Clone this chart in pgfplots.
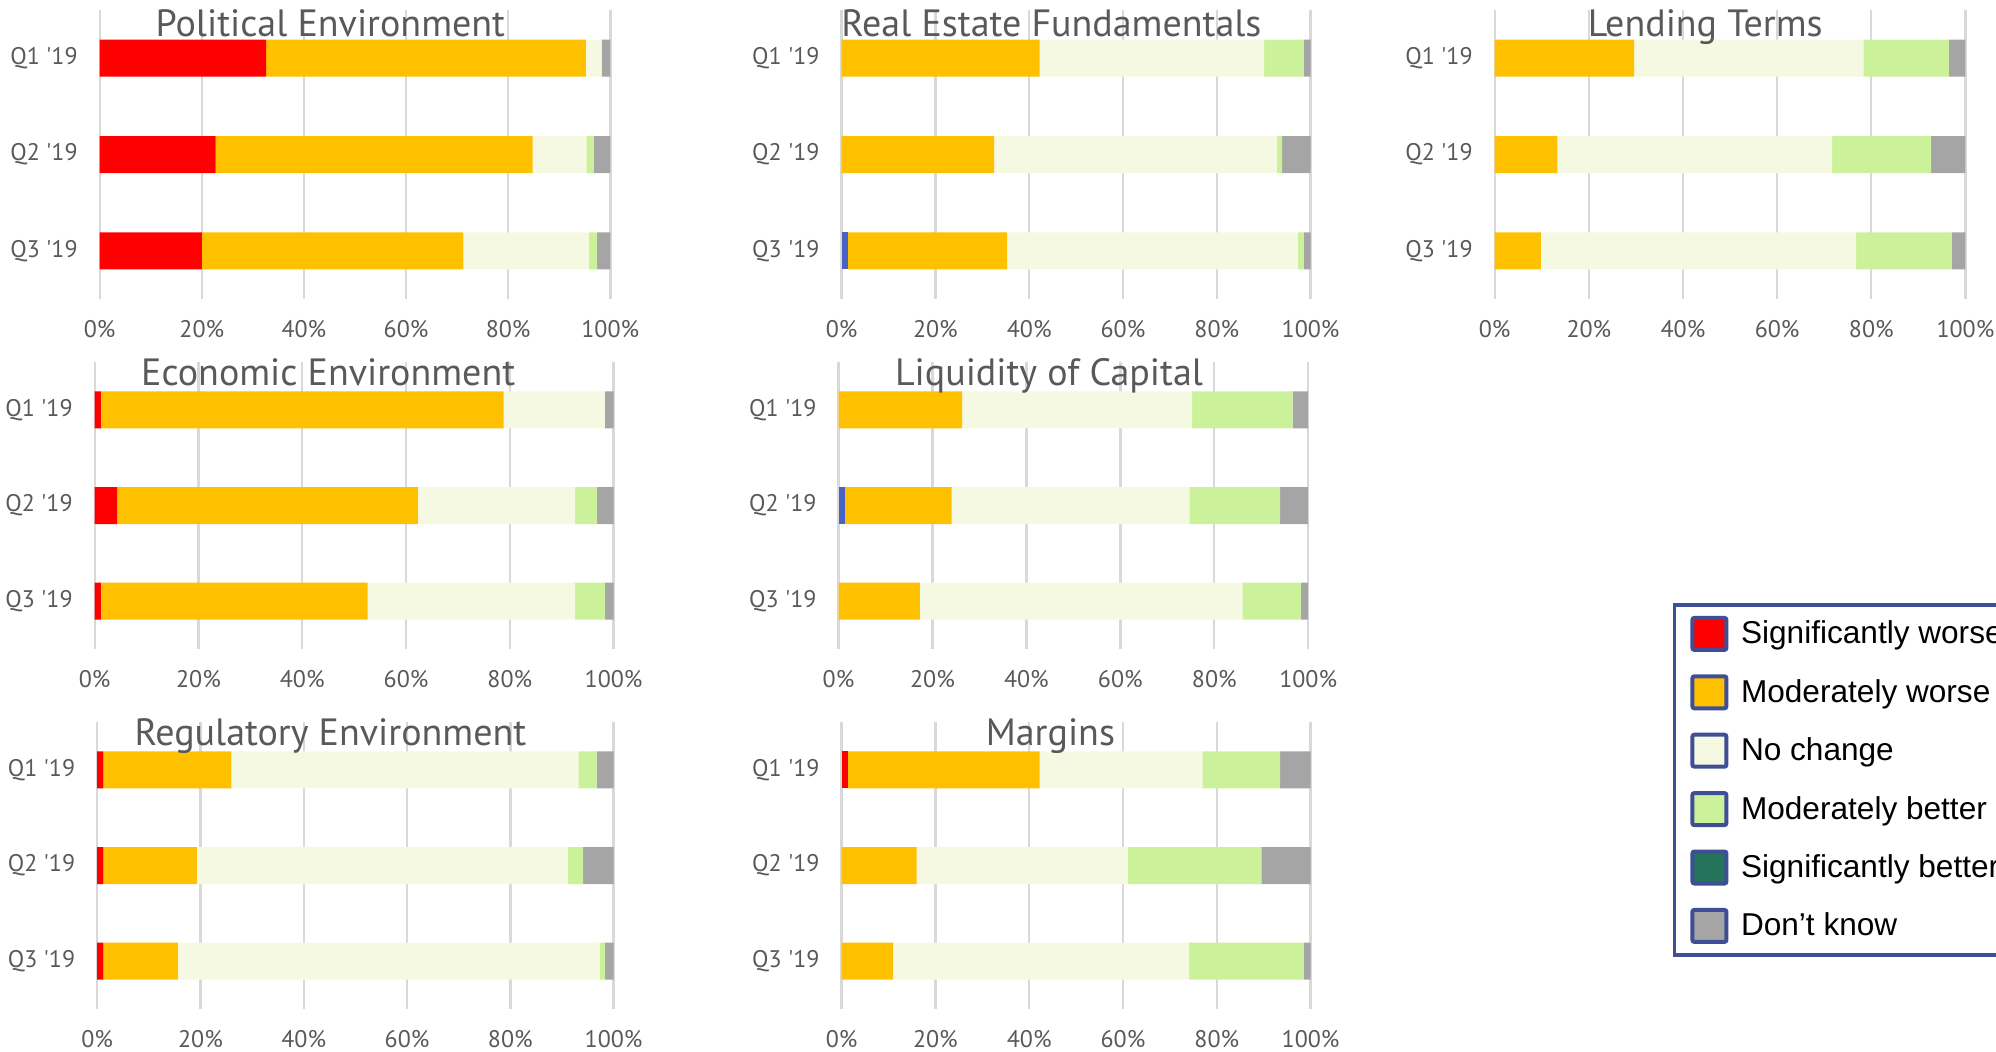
\documentclass[border=0pt]{standalone}
\usepackage{fontspec}
\setmainfont{PT Sans}
\newfontfamily\legendfont{Liberation Sans}
\usepackage{pgfplots}
\pgfplotsset{compat=1.18}
\usepackage{pgfplotstable}
\definecolor{sw}{HTML}{FF0000}
\definecolor{mw}{HTML}{FFC000}
\definecolor{nc}{HTML}{F6F9E1}
\definecolor{mb}{HTML}{CBF29B}
\definecolor{sb}{HTML}{24735A}
\definecolor{dk}{HTML}{A5A5A5}
\definecolor{bl}{HTML}{4A62C6}
\definecolor{gridgray}{HTML}{D9D9D9}
\definecolor{labelgray}{HTML}{595959}
\definecolor{legblue}{HTML}{3F4F95}

% columns: q  blue  sig.worse  mod.worse  nochange  mod.better  sig.better  dontknow
\pgfplotstableread{
q bl sw mw nc mb sb dk
0 0 32.6 62.6 3.1 0 0 1.7
1 0 22.7 62.1 10.5 1.5 0 3.2
2 0 20.0 51.2 24.6 1.6 0 2.6
}\political
\pgfplotstableread{
q bl sw mw nc mb sb dk
0 0 0 42.2 47.9 8.4 0 1.5
1 0 0 32.5 60.3 1.1 0 6.1
2 1.3 0 34.0 62.0 1.2 0 1.5
}\realestate
\pgfplotstableread{
q bl sw mw nc mb sb dk
0 0 0 29.6 48.7 18.2 0 3.5
1 0 0 13.3 58.4 21.0 0 7.3
2 0 0 9.8 67.0 20.3 0 2.9
}\lending
\pgfplotstableread{
q bl sw mw nc mb sb dk
0 0 1.2 77.6 19.5 0 0 1.7
1 0 4.3 58.0 30.3 4.2 0 3.2
2 0 1.2 51.4 40.0 5.7 0 1.7
}\economic
\pgfplotstableread{
q bl sw mw nc mb sb dk
0 0 0 26.3 49.0 21.4 0 3.3
1 1.3 0 22.8 50.6 19.3 0 6.0
2 0 0 17.3 68.7 12.5 0 1.5
}\liquidity
\pgfplotstableread{
q bl sw mw nc mb sb dk
0 0 1.2 24.8 67.2 3.5 0 3.3
1 0 1.2 18.1 71.8 3.0 0 5.9
2 0 1.2 14.4 81.7 1.0 0 1.7
}\regulatory
\pgfplotstableread{
q bl sw mw nc mb sb dk
0 0 1.3 40.9 34.7 16.6 0 6.5
1 0 0 16.0 45.0 28.5 0 10.5
2 0 0 11.0 63.1 24.4 0 1.5
}\margins

\pgfplotsset{
  panel/.style={
    xbar stacked, scale only axis, anchor=south west,
    xmin=0, xmax=100, ymin=-0.5, ymax=2.5, y dir=reverse,
    ytick={0,1,2}, yticklabels={{Q1 \textquotesingle19},{Q2 \textquotesingle19},{Q3 \textquotesingle19}},
    xtick={0,20,40,60,80,100}, xticklabels={0\%,20\%,40\%,60\%,80\%,100\%},
    xmajorgrids, major grid style={draw=gridgray, line width=1.2pt},
    axis line style={draw=none}, major tick length=0pt,
    tick label style={font=\fontsize{12}{14}\selectfont, text=labelgray},
    yticklabel style={anchor=east, xshift=-7.5pt},
    xticklabel style={anchor=north, yshift=-7pt},
    bar width=18.5pt, clip=false,
    every axis plot/.append style={draw=none},
  },
}
\tikzset{ttl/.style={font=\fontsize{19}{21}\selectfont, text=labelgray, anchor=base}}
\newcommand{\panelplots}[1]{%
  \addplot[fill=bl] table[x=bl,y=q]{#1};
  \addplot[fill=sw] table[x=sw,y=q]{#1};
  \addplot[fill=mw] table[x=mw,y=q]{#1};
  \addplot[fill=nc] table[x=nc,y=q]{#1};
  \addplot[fill=mb] table[x=mb,y=q]{#1};
  \addplot[fill=sb] table[x=sb,y=q]{#1};
  \addplot[fill=dk] table[x=dk,y=q]{#1};
}

\begin{document}
\begin{tikzpicture}
\path[use as bounding box] (0,0) rectangle (998pt,525.5pt);
\clip (0,0) rectangle (998pt,525.5pt);

% Row 1
\begin{axis}[panel, at={(49.85pt,376pt)}, width=255.3pt, height=144.5pt]
\panelplots{\political}
\end{axis}
\begin{axis}[panel, at={(420.8pt,376pt)}, width=234.5pt, height=144.5pt]
\panelplots{\realestate}
\end{axis}
\begin{axis}[panel, at={(747.35pt,376pt)}, width=235.35pt, height=144.5pt]
\panelplots{\lending}
\end{axis}
% Row 2
\begin{axis}[panel, at={(47.35pt,201pt)}, width=259.45pt, height=143.5pt]
\panelplots{\economic}
\end{axis}
\begin{axis}[panel, at={(419.25pt,201pt)}, width=234.85pt, height=143.5pt]
\panelplots{\liquidity}
\end{axis}
% Row 3
\begin{axis}[panel, at={(48.6pt,21pt)}, width=258.2pt, height=143.5pt]
\panelplots{\regulatory}
\end{axis}
\begin{axis}[panel, at={(420.8pt,21pt)}, width=234.5pt, height=143.5pt]
\panelplots{\margins}
\end{axis}

% Titles
\node[ttl] at (165.2pt,507.2pt) {Political Environment};
\node[ttl] at (525.7pt,507.2pt) {Real Estate Fundamentals};
\node[ttl] at (852.6pt,507.2pt) {Lending Terms};
\node[ttl] at (164.1pt,332.5pt) {Economic Environment};
\node[ttl] at (524.5pt,332.5pt) {Liquidity of Capital};
\node[ttl] at (165.2pt,153pt) {Regulatory Environment};
\node[ttl] at (525.2pt,153pt) {Margins};

% Legend
\begin{axis}[hide axis, scale only axis, width=10pt, height=10pt,
  at={(836.35pt,223.9pt)}, anchor=south west,
  xmin=0, xmax=1, ymin=0, ymax=1,
  legend style={at={(0,0)}, anchor=north west, draw=legblue, line width=1.7pt,
    font=\legendfont\fontsize{15.8}{18}\selectfont, text=black,
    inner xsep=8pt, inner ysep=5.5pt, row sep=11.2pt, column sep=4.3pt,
    cells={anchor=west}, nodes={inner sep=2pt}},
  legend cell align=left,
  legend image code/.code={\draw[#1, draw=legblue, line width=2pt, rounded corners=1pt] (0pt,-8pt) rectangle (17pt,8pt);},
]
\addlegendimage{fill=sw}\addlegendentry{Significantly worse}
\addlegendimage{fill=mw}\addlegendentry{Moderately worse}
\addlegendimage{fill=nc}\addlegendentry{No change}
\addlegendimage{fill=mb}\addlegendentry{Moderately better}
\addlegendimage{fill=sb}\addlegendentry{Significantly better}
\addlegendimage{fill=dk}\addlegendentry{Don’t know}
\end{axis}
\end{tikzpicture}
\end{document}
